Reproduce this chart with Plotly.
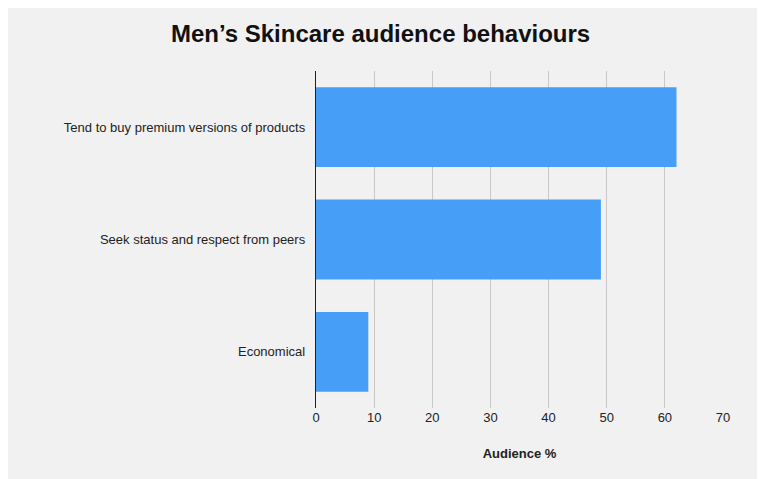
import plotly.graph_objects as go

categories = ["Economical", "Seek status and respect from peers", "Tend to buy premium versions of products"]
audience = [9, 49, 62]
x_ticks = [0, 10, 20, 30, 40, 50, 60, 70]

fig = go.Figure(go.Bar(
    x=audience, y=categories, orientation="h",
    marker=dict(color="#479ef7", line=dict(width=0)),
    width=0.71,
))
fig.update_layout(
    width=765, height=479,
    paper_bgcolor="#f1f1f1", plot_bgcolor="#f1f1f1",
    font=dict(family="Liberation Sans, Arial", size=13, color="#222"),
    title=dict(text="<b>Men’s Skincare audience behaviours</b>", x=0.487, xanchor="center",
               y=0.965, font=dict(size=24, color="#111")),
    margin=dict(l=308, r=50, t=63, b=79),
    showlegend=False,
    bargap=0.29,
)
fig.update_xaxes(range=[0, 70], tickvals=x_ticks, showgrid=True, gridcolor="#c8c8c8",
                 zeroline=False, ticks="", tickfont=dict(size=13),
                 title=dict(text="<b>Audience %</b>", font=dict(size=13), standoff=24))
fig.update_yaxes(showline=True, linecolor="#222", linewidth=1, ticks="", ticksuffix="  ",
                 tickfont=dict(size=13))
fig.write_html("out.html")
